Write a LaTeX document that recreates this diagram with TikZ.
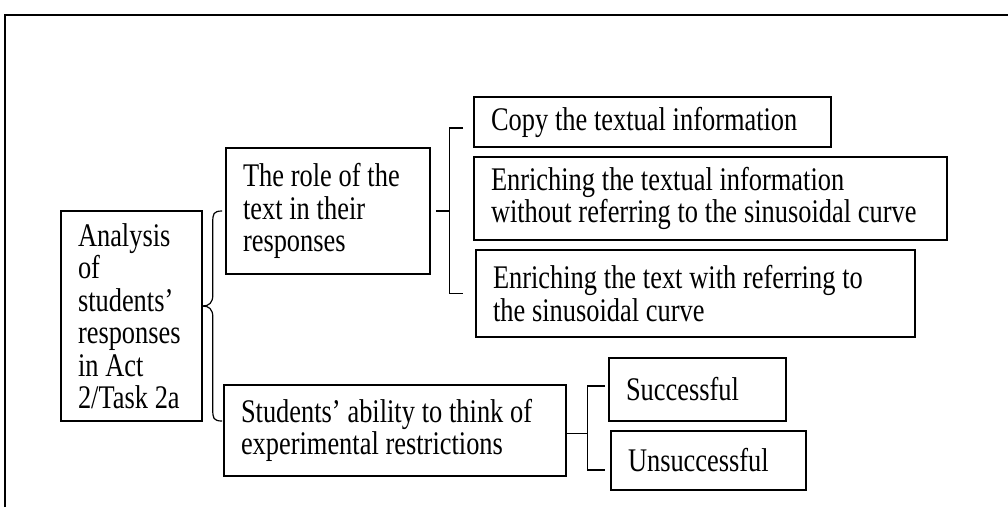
\documentclass[tikz,border=0pt]{standalone}
\usepackage{fontspec}
\setmainfont{Liberation Serif}[FakeStretch=0.8]
\usetikzlibrary{calc}
\newcommand{\boxfont}{\fontsize{33}{32.5}\selectfont\spaceskip=6.8pt plus 1pt minus 1pt\relax}

\begin{document}
\begin{tikzpicture}[x=1pt, y=-1pt,
			box/.style    = {draw, rectangle, black, line width=1.6pt, align=flush left, inner xsep=17pt, inner ysep=0pt, font=\boxfont},
			brace/.style  = {black, line width=1.2pt},]
			
			\useasboundingbox (0,0) rectangle (1008,507);
			%% FRAME
			\draw[black, line width=2pt] (5,507) -- (5,15) -- (1008,15);
			
			%% BOXES
			\node[box, text width=107pt, minimum width=141pt, minimum height=210pt] (ana) at (131.5,316) {Analysis\\ of\\ students'\\ responses\\ in Act\\ 2/Task 2a};
			\node[box, text width=170pt, minimum width=204pt, minimum height=126pt] (role) at (328,211) {The role of the\\ text in their\\ responses};
			\node[box, text width=323pt, minimum width=357pt, minimum height=50pt] (copy) at (652.5,122) {Copy the textual information};
			\node[box, text width=439pt, minimum width=473pt, minimum height=83pt] (enrinfo) at (710.5,198.5) {Enriching the textual information\\ without referring to the sinusoidal curve};
			\node[box, text width=405pt, minimum width=439pt, minimum height=87pt] (enrtext) at (695.5,293.5) {Enriching the text with referring to\\ the sinusoidal curve};
			\node[box, text width=308pt, minimum width=342pt, minimum height=91pt] (ability) at (395,430.5) {Students' ability to think of\\ experimental restrictions};
			\node[box, text width=143pt, minimum width=177pt, minimum height=63pt] (succ) at (697.5,389.5) {Successful};
			\node[box, text width=161pt, minimum width=195pt, minimum height=59pt] (unsucc) at (708.5,460.5) {Unsuccessful};
			
			%% CURLY BRACE AFTER THE FIRST BOX
			\coordinate (anatip) at ([yshift=10pt]ana.east);
			\coordinate (bx) at ([xshift=10pt]anatip);
			\coordinate (brbot) at ([xshift=-1pt,yshift=9.5pt]ability.west);
			\draw[brace] ([xshift=-3pt]role.west) .. controls +(-9,0) and +(0,-8) .. ([yshift=-11pt]bx |- role.west) -- ([yshift=11pt]bx) .. controls +(0,8) and +(6,0) .. (anatip);
			\draw[brace] (anatip) .. controls +(6,0) and +(0,-8) .. ([yshift=-11pt]bx) -- ([yshift=11pt]bx |- brbot) .. controls +(0,8) and +(-9,0) .. (brbot);
			
			%% SQUARE BRACKETS
			\coordinate (rolebr) at ([xshift=19pt]role.east);
			\draw[brace] ([xshift=5pt]role.east) -- (rolebr);
			\draw[brace] ([xshift=-10pt,yshift=-6pt]copy.west) -| (rolebr) |- ([xshift=-12pt]enrtext.west);
			\coordinate (abbr) at ([xshift=21pt,yshift=-3pt]ability.east);
			\draw[brace] ([yshift=-3pt]ability.east) -- (abbr);
			\draw[brace] ([xshift=-3pt,yshift=3.5pt]succ.west) -| (abbr) |- ([xshift=-5pt,yshift=-9.5pt]unsucc.west);
			\end{tikzpicture}
\end{document}
